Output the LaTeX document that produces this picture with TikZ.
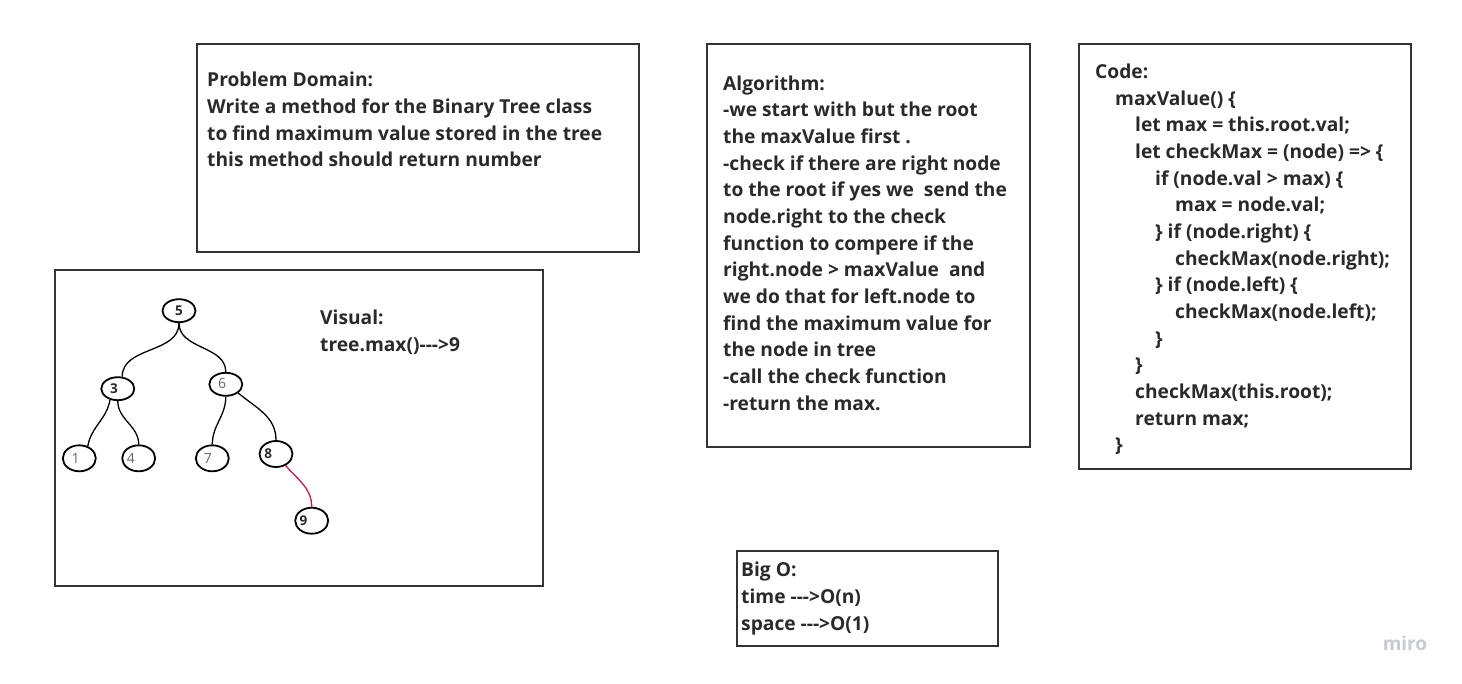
\documentclass[tikz,border=0pt]{standalone}
\usepackage{fontspec}
\setmainfont{Open Sans}
\usetikzlibrary{shapes.geometric}
\definecolor{ink}{HTML}{2A2A2A}
\definecolor{boxline}{HTML}{333333}
\definecolor{graylab}{HTML}{6A6A6A}
\definecolor{edgered}{HTML}{C2185B}
\definecolor{mirogray}{HTML}{C8CAD3}
\begin{document}
\begin{tikzpicture}[x=1pt,y=-1pt,
  box/.style={draw=boxline,line width=1.8pt},
  txt/.style={anchor=north west,inner sep=0pt,align=left,text=ink,
    font=\fontsize{19.2}{26.67}\selectfont\bfseries},
  ell/.style={draw=black,ellipse,line width=1.8pt,minimum width=33pt,minimum height=23pt,inner sep=0pt},
  lowell/.style={ell,minimum height=26pt},
  boldlab/.style={inner sep=0pt,text=ink,font=\fontsize{13.5}{15}\selectfont\bfseries},
  graylabel/.style={inner sep=0pt,text=graylab,font=\fontsize{14}{15}\selectfont},
  edge/.style={draw=black,line width=1.3pt},
  rededge/.style={draw=edgered,line width=1.3pt}]
\useasboundingbox (0,0) rectangle (1462,683);
\fill[white] (0,0) rectangle (1462,683);

% boxes
\draw[box] (197,44) rectangle (639,252);
\draw[box] (55,270) rectangle (543,586);
\draw[box] (707,44) rectangle (1030,447);
\draw[box] (1079,44) rectangle (1411,469);
\draw[box] (737,551) rectangle (998,646);

% problem domain
\node[txt] (pd) at (207,68.0) {\strut Problem Domain:\\
Write a method for the Binary Tree class\\
to find maximum value stored in the tree\\
this method should return number};

% algorithm
\node[txt] (alg) at (723,71.3) {\strut Algorithm:\\
-we start with but the root\\
the maxValue first .\\
-check if there are right node\\
to the root if yes we\ \ send the\\
node.right to the check\\
function to compere if the\\
right.node > maxValue\ \ and\\
we do that for left.node to\\
find the maximum value for\\
the node in tree\\
-call the check function\\
-return the max.};

% code
\node[txt] (code) at (1095,59.6) {\strut Code:\\
\hspace*{20pt}maxValue() \{\\
\hspace*{40pt}let max = this.root.val;\\
\hspace*{40pt}let checkMax = (node) => \{\\
\hspace*{60pt}if (node.val > max) \{\\
\hspace*{80pt}max = node.val;\\
\hspace*{60pt}\} if (node.right) \{\\
\hspace*{80pt}checkMax(node.right);\\
\hspace*{60pt}\} if (node.left) \{\\
\hspace*{80pt}checkMax(node.left);\\
\hspace*{60pt}\}\\
\hspace*{40pt}\}\\
\hspace*{40pt}checkMax(this.root);\\
\hspace*{40pt}return max;\\
\hspace*{20pt}\}};

% big O
\node[txt] (bigo) at (741,558.0) {\strut Big O:\\
time -{}-{}->O(n)\\
space -{}-{}->O(1)};

% visual
\node[txt] (vis) at (320,305.6) {\strut Visual:\\
tree.max()-{}-{}->9};

% tree
\node[ell] (n5) at (179,310.7) {};
\node[ell] (n3) at (117.8,388.7) {};
\node[ell] (n6) at (225.8,384.3) {};
\node[lowell] (n1) at (79.3,458.3) {};
\node[lowell] (n4) at (138.7,458.3) {};
\node[lowell] (n7) at (212.3,458.3) {};
\node[lowell] (n8) at (276,454) {};
\node[lowell] (n9) at (311.7,520.7) {};

\node[boldlab] (l5) at ([xshift=0pt]n5.center) {5};
\node[boldlab] (l3) at ([xshift=-3.8pt]n3.center) {3};
\node[graylabel] (l6) at ([xshift=-3.8pt,yshift=1pt]n6.center) {6};
\node[graylabel] (l1) at ([xshift=-3.7pt]n1.center) {1};
\node[graylabel] (l4) at ([xshift=-7.8pt]n4.center) {4};
\node[graylabel] (l7) at ([xshift=-4.5pt]n7.center) {7};
\node[boldlab] (l8) at ([xshift=-7.7pt,yshift=0.7pt]n8.center) {8};
\node[boldlab] (l9) at ([xshift=-8.3pt]n9.center) {9};

\draw[edge] (n5.south) to[out=-90,in=90] (n3.70);
\draw[edge] (n5.south) to[out=-90,in=90] (n6.north);
\draw[edge] (n3.235) to[out=-100,in=80] (n1.55);
\draw[edge] (n3.south) to[out=-90,in=90] (n4.north);
\draw[edge] (n6.south) to[out=-90,in=90] (n7.north);
\draw[edge] (n6.-35) to[out=-40,in=90] (n8.north);
\draw[rededge] (n8.-50) to[out=-50,in=90] (n9.north);

% watermark
\node[inner sep=0pt,text=mirogray,font=\fontsize{19}{22}\selectfont\bfseries] (miro) at (1405,643) {miro};
\end{tikzpicture}
\end{document}
